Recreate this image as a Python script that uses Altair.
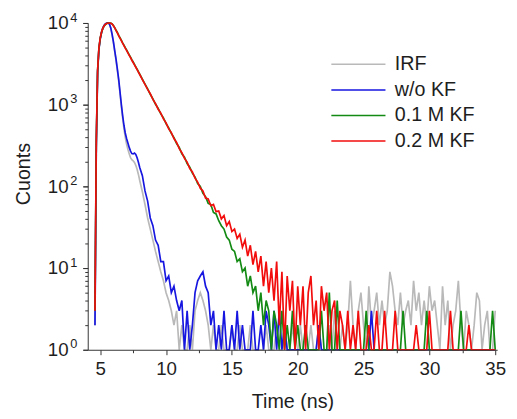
import altair as alt
import pandas as pd

# ---- time grid (ns): fine channels up to 8 ns, then 0.2 ns channels ----
TIME_FINE = [4.6, 4.7, 4.8, 4.9, 5.0, 5.1, 5.2, 5.3, 5.4, 5.5, 5.6, 5.7, 5.8, 5.9,
             6.0, 6.1, 6.2, 6.3, 6.4, 6.5, 6.6, 6.7, 6.8, 6.9, 7.0, 7.1, 7.2, 7.3,
             7.4, 7.5, 7.6, 7.7, 7.8, 7.9, 8.0]
TIME_COARSE = [round(8.2 + 0.2 * i, 1) for i in range(135)]
TIME = TIME_FINE + TIME_COARSE

SERIES = ["IRF", "w/o KF", "0.1 M KF", "0.2 M KF"]
COLORS = ["#b9b9b9", "#1616e0", "#138a13", "#f20c0c"]

IRF = [2, 280, 2400, 4700, 6300, 7600, 8600, 9300, 9750, 9950, 10000, 9650, 8600, 7150,
       5750, 4450, 3450, 2620, 1950, 1380, 960, 690, 510, 400, 330, 285, 250, 225,
       212, 206, 196, 181, 162, 140, 118,
       86, 60, 41, 30, 22,
       16, 12, 9, 7, 5,
       4, 3, 2, 3, 1,
       2, 1, 1, 2, 1,
       3, 4, 5, 4, 3,
       2, 1, 2, 1, 1,
       2, 1, 1, 1, 2,
       1, 1, 2, 1, 1,
       1, 2, 1, 1, 1,
       1, 1, 2, 1, 1,
       1, 2, 1, 1, 2,
       1, 1, 2, 1, 1,
       2, 1, 1, 1, 2,
       1, 1, 2, 1, 1,
       1, 2, 1, 3, 1,
       1, 2, 1, 2, 7,
       2, 1, 3, 5, 2,
       1, 6, 2, 3, 5,
       2, 4, 2, 3, 9,
       6, 3, 2, 5, 2,
       3, 4, 2, 7, 3,
       5, 2, 4, 2, 6,
       3, 4, 2, 1, 6,
       2, 4, 1, 2, 3,
       7, 2, 1, 3, 2,
       1, 2, 5, 4, 1,
       2, 3, 1, 1, 3]

WO_KF = [2, 300, 2500, 4800, 6400, 7700, 8700, 9400, 9800, 9950, 10000, 9700, 8700, 7300,
         5900, 4600, 3600, 2750, 2050, 1450, 1020, 740, 560, 450, 385, 340, 300, 270,
         252, 250, 256, 246, 224, 197, 170,
         135, 88, 66, 41, 33,
         22, 19, 12, 12, 7,
         8, 5, 6, 4, 3,
         4, 1, 3, 1, 2,
         5, 7, 8, 9, 6,
         5, 2, 3, 1, 2,
         1, 3, 1, 1, 2,
         1, 3, 1, 2, 1,
         1, 1, 3, 1, 1,
         2, 1, 3, 2, 1,
         3, 1, 3, 1, 2,
         1, 1, 1, 1, 1,
         1, 1, 1, 1, 1,
         1, 1, 2, 1, 1,
         1, 1, 1, 1, 1,
         1, 1, 1, 1, 1,
         1, 1, 1, 1, 1,
         1, 1, 3, 1, 1,
         1, 1, 1, 1, 1,
         1, 1, 1, 1, 1,
         1, 1, 1, 1, 1,
         1, 1, 1, 1, 1,
         1, 1, 1, 1, 1,
         1, 1, 1, 1, 1,
         1, 1, 1, 1, 1,
         1, 1, 1, 1, 1,
         1, 1, 1, 1, 1]

KF_01 = [3, 350, 2600, 4900, 6500, 7700, 8600, 9200, 9600, 9850, 9980, 10000, 9950, 9750,
         9300, 8750, 8150, 7650, 7050, 6600, 6150, 5700, 5350, 4980, 4680, 4370, 4080, 3820,
         3560, 3330, 3120, 2910, 2720, 2530, 2370,
         2060, 1790, 1560, 1340, 1180,
         1010, 900, 770, 690, 585,
         520, 445, 395, 335, 300,
         250, 228, 190, 172, 145,
         130, 108, 100, 82, 75,
         62, 60, 48, 46, 38,
         33, 30, 24, 22, 17,
         16, 12, 13, 9, 10,
         6, 8, 5, 6, 3,
         5, 2, 4, 3, 1,
         3, 2, 1, 3, 1,
         2, 1, 3, 1, 2,
         1, 1, 2, 1, 1,
         1, 1, 1, 3, 1,
         1, 5, 1, 1, 4,
         1, 1, 1, 1, 1,
         1, 1, 1, 1, 1,
         3, 1, 1, 1, 1,
         1, 1, 1, 1, 1,
         1, 1, 1, 1, 3,
         1, 1, 1, 1, 1,
         1, 1, 1, 3, 1,
         1, 1, 1, 1, 1,
         1, 1, 1, 1, 1,
         1, 3, 1, 1, 1,
         1, 1, 1, 1, 1,
         1, 1, 1, 3, 1]

KF_02 = [3, 360, 2650, 4950, 6550, 7750, 8650, 9250, 9650, 9880, 9990, 10000, 9940, 9720,
         9250, 8700, 8100, 7580, 7000, 6530, 6080, 5650, 5280, 4920, 4610, 4300, 4020, 3760,
         3500, 3280, 3070, 2870, 2680, 2500, 2340,
         2030, 1770, 1540, 1360, 1160,
         1030, 880, 790, 670, 600,
         505, 455, 385, 345, 290,
         258, 220, 198, 165, 150,
         126, 113, 95, 88, 72,
         70, 58, 60, 49, 50,
         40, 44, 33, 37, 28,
         30, 23, 26, 18, 22,
         14, 19, 11, 16, 9,
         14, 6, 12, 5, 10,
         4, 12, 2, 9, 1,
         8, 3, 7, 1, 6,
         2, 6, 1, 5, 8,
         2, 4, 1, 6, 3,
         5, 1, 3, 4, 1,
         3, 2, 1, 3, 1,
         2, 1, 3, 1, 1,
         1, 2, 1, 1, 3,
         1, 1, 3, 1, 1,
         1, 3, 1, 1, 1,
         1, 1, 1, 1, 2,
         1, 1, 1, 1, 3,
         1, 1, 1, 1, 1,
         1, 1, 3, 1, 1,
         1, 1, 1, 1, 2,
         1, 1, 1, 1, 1,
         1, 1, 1, 1, 1]

X_MAJOR = [5, 10, 15, 20, 25, 30, 35]
X_MINOR = [7.5, 12.5, 17.5, 22.5, 27.5, 32.5]
Y_MAJOR = [1, 10, 100, 1000, 10000]
Y_MINOR = [2, 3, 4, 5, 6, 7, 8, 9, 20, 30, 40, 50, 60, 70, 80, 90,
           200, 300, 400, 500, 600, 700, 800, 900, 2000, 3000, 4000, 5000, 6000,
           7000, 8000, 9000]

rows = []
for name, vals in zip(SERIES, [IRF, WO_KF, KF_01, KF_02]):
    for t, v in zip(TIME, vals):
        rows.append({"time": t, "counts": v, "series": name})
df = pd.DataFrame(rows)

FONT = "Liberation Sans"
AX = "#333333"
TXT = "#1e1e1e"

xscale = alt.Scale(domain=[4.05, 35.15], nice=False, zero=False)
yscale = alt.Scale(type="log", domain=[1, 10000], nice=False)

legend = alt.Legend(orient="none", legendX=265, legendY=32, title=None,
                    symbolType="M-5.5,0H5.5", symbolSize=100, symbolStrokeWidth=1.5,
                    labelFont=FONT, labelFontSize=20, labelColor=TXT,
                    labelOffset=27, rowPadding=6, padding=0, labelLimit=300)
color = alt.Color("series:N", scale=alt.Scale(domain=SERIES, range=COLORS), legend=legend)

x_major = alt.Axis(values=X_MAJOR, orient="bottom", format="d", grid=False,
                   tickSize=5, tickColor=AX, domainColor=AX, labelPadding=5,
                   labelFont=FONT, labelFontSize=19, labelColor=TXT,
                   labelFlush=False, labelOverlap=False,
                   title="Time (ns)", titleFont=FONT, titleFontSize=20,
                   titleFontWeight="normal", titleColor=TXT,
                   titleBaseline="alphabetic", titleY=59, zindex=1)
x_minor = alt.Axis(values=X_MINOR, orient="bottom", grid=False, labels=False,
                   domain=False, tickSize=3, tickColor=AX, title="", zindex=1)

y_major = alt.Axis(values=Y_MAJOR, orient="left", grid=False, labelExpr="'10'",
                   tickSize=5, tickColor=AX, domainColor=AX, labelPadding=15,
                   labelFont=FONT, labelFontSize=19, labelColor=TXT,
                   labelBaseline="middle", labelFlush=False, labelOverlap=False,
                   title="Cuonts", titleFont=FONT, titleFontSize=20,
                   titleFontWeight="normal", titleColor=TXT, titleAngle=270,
                   titleBaseline="alphabetic", titleX=-59, titleY=153, zindex=1)
y_sup = alt.Axis(values=Y_MAJOR, orient="left", grid=False,
                 labelExpr="'' + round(log(datum.value) / LN10)",
                 tickSize=5, tickColor=AX, domain=False, labelPadding=6,
                 labelFont=FONT, labelFontSize=13, labelColor=TXT,
                 labelBaseline="middle", labelOffset=-6, labelFlush=False,
                 labelOverlap=False, title="", zindex=1)
y_minor = alt.Axis(values=Y_MINOR, orient="left", grid=False, labels=False,
                   domain=False, tickSize=3, tickColor=AX, title="", zindex=1)

base = alt.Chart(df)


def layer(name, xaxis, yaxis):
    x = alt.X("time:Q", scale=xscale, axis=xaxis) if xaxis is not None else alt.X("time:Q", scale=xscale, axis=None)
    y = alt.Y("counts:Q", scale=yscale, axis=yaxis) if yaxis is not None else alt.Y("counts:Q", scale=yscale, axis=None)
    return (base.transform_filter(alt.datum.series == name)
            .mark_line(strokeWidth=1.7, strokeJoin="miter")
            .encode(x=x, y=y, color=color))


chart = alt.layer(
    layer("IRF", x_major, y_major),
    layer("w/o KF", x_minor, y_sup),
    layer("0.1 M KF", None, y_minor),
    layer("0.2 M KF", None, None),
).resolve_axis(x="independent", y="independent").properties(
    width=416, height=332,
    autosize=alt.AutoSizeParams(type="none"),
    padding={"left": 81, "top": 12, "right": 12, "bottom": 59},
    background="white",
).configure_view(stroke=None)

chart.save("out.html", embed_options={"renderer": "svg", "actions": False})
